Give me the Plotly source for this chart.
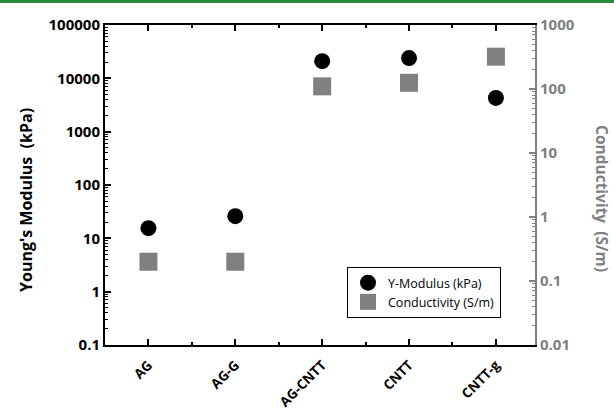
import plotly.graph_objects as go

categories = ["AG", "AG-G", "AG-CNTT", "CNTT", "CNTT-g"]
modulus_kpa = [15.5, 26, 21000, 24000, 4300]
conductivity_sm = [0.2, 0.2, 110, 125, 320]

left_ticks = [0.1, 1, 10, 100, 1000, 10000, 100000]
left_ticktext = ["0.1", "1", "10", "100", "1000", "10000", "100000"]
right_ticks = [0.01, 0.1, 1, 10, 100, 1000]
right_ticktext = ["0.01", "0.1", "1", "10", "100", "1000"]

W, H = 614, 412
L, R, T, B = 105, 79, 25, 67
pw, ph = W - L - R, H - T - B
GRAY = "#808080"
FONT = "Open Sans"

xs = list(range(len(categories)))

fig = go.Figure()
fig.add_trace(go.Scatter(
    x=xs, y=modulus_kpa, mode="markers", name="Y-Modulus (kPa)",
    marker=dict(symbol="circle", size=16, color="black"),
    yaxis="y"))
fig.add_trace(go.Scatter(
    x=xs, y=conductivity_sm, mode="markers", name="Conductivity (S/m)",
    marker=dict(symbol="square", size=18, color=GRAY),
    yaxis="y2"))

def minor_vals(lo, hi):
    return [k * 10 ** e for e in range(lo, hi) for k in range(2, 10)]

fig.update_layout(
    width=W, height=H,
    margin=dict(l=L, r=R, t=T, b=B, autoexpand=False),
    paper_bgcolor="white", plot_bgcolor="white",
    font=dict(family=FONT, color="black"),
    showlegend=True,
    legend=dict(
        x=(347 - L) / pw, y=(H - B - 267) / ph, xanchor="left", yanchor="top",
        bordercolor="black", borderwidth=1, bgcolor="white",
        font=dict(family=FONT, size=12.5, color="black"),
        itemsizing="trace", tracegroupgap=0,
    ),
    xaxis=dict(
        range=[-0.5, 4.45], tickvals=xs, ticktext=categories,
        tickangle=-45, tickfont=dict(family=FONT, size=13.5, weight="bold"),
        ticklabelstandoff=5, automargin=False,
        showline=True, linecolor="black", linewidth=2, mirror="ticks",
        ticks="inside", ticklen=6, tickwidth=2, tickcolor="black",
        showgrid=False, zeroline=False,
        minor=dict(tickvals=[0.5, 1.5, 2.5, 3.5], ticks="inside", ticklen=3,
                   tickwidth=2, tickcolor="black", showgrid=False),
    ),
    yaxis=dict(
        type="log", range=[-1, 5], tickvals=left_ticks, ticktext=left_ticktext,
        tickfont=dict(family=FONT, size=15, weight="bold", color="black"),
        showline=True, linecolor="black", linewidth=2, automargin=False,
        ticks="inside", ticklen=6, tickwidth=2, tickcolor="black",
        showgrid=False, zeroline=False,
        minor=dict(tickvals=minor_vals(-1, 5), ticks="inside", ticklen=3,
                   tickwidth=1, tickcolor="black", showgrid=False),
    ),
    yaxis2=dict(
        type="log", range=[-2, 3], overlaying="y", side="right",
        tickvals=right_ticks, ticktext=right_ticktext, automargin=False,
        tickfont=dict(family=FONT, size=15, weight="bold", color=GRAY),
        showline=True, linecolor=GRAY, linewidth=2,
        ticks="inside", ticklen=6, tickwidth=2, tickcolor=GRAY,
        showgrid=False, zeroline=False,
        minor=dict(tickvals=minor_vals(-2, 3), ticks="inside", ticklen=3,
                   tickwidth=1, tickcolor=GRAY, showgrid=False),
    ),
)

fig.add_annotation(
    text="Young's Modulus  (kPa)", xref="paper", yref="paper",
    x=(26 - L) / pw, y=(H - B - 200) / ph, textangle=-90, showarrow=False,
    xanchor="center", yanchor="middle",
    font=dict(family=FONT, size=16, weight="bold", color="black"))
fig.add_annotation(
    text="Conductivity  (S/m)", xref="paper", yref="paper",
    x=(602 - L) / pw, y=(H - B - 198) / ph, textangle=90, showarrow=False,
    xanchor="center", yanchor="middle",
    font=dict(family=FONT, size=15.5, weight="bold", color=GRAY))

fig.add_shape(
    type="rect", xref="paper", yref="paper",
    x0=-L / pw, x1=1 + R / pw, y0=1 + (T - 3) / ph, y1=1 + T / ph,
    fillcolor="#2e8b3c", line=dict(width=0), layer="above")

fig.write_html("out.html")
